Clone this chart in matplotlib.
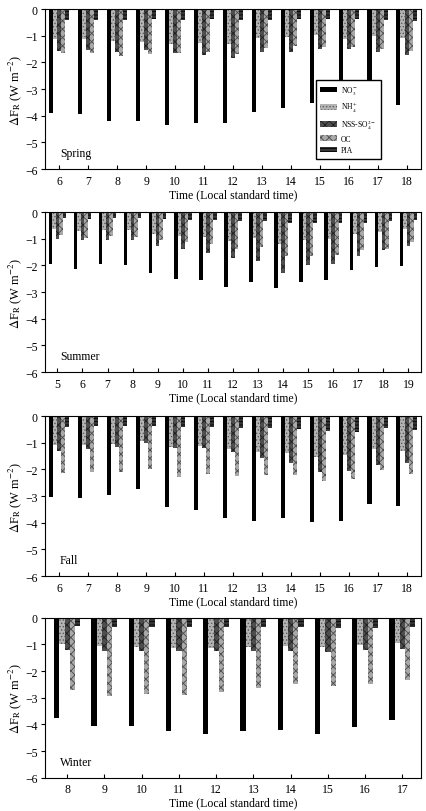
import numpy as np
import matplotlib; matplotlib.use('Agg')
import matplotlib.pyplot as plt

plt.rcParams['font.family'] = ['Liberation Serif', 'DejaVu Serif']
plt.rcParams['mathtext.fontset'] = 'stix'
plt.rcParams['hatch.linewidth'] = 0.6

# ---- data (W m-2) ----
species = ['NO$_3^-$', 'NH$_4^+$', 'NSS-SO$_4^{2-}$', 'OC', 'PIA']

spring_hours = list(range(6, 19))
spring_no3 = [-3.89, -3.93, -4.18, -4.18, -4.36, -4.29, -4.29, -3.85, -3.70, -3.54, -3.35, -3.43, -3.61]
spring_nh4 = [-1.11, -1.14, -1.20, -1.24, -1.30, -1.26, -1.30, -1.10, -1.04, -0.98, -1.11, -1.01, -1.08]
spring_so4 = [-1.58, -1.55, -1.61, -1.55, -1.64, -1.72, -1.82, -1.60, -1.61, -1.49, -1.51, -1.60, -1.74]
spring_oc  = [-1.66, -1.66, -1.76, -1.68, -1.66, -1.61, -1.70, -1.45, -1.39, -1.43, -1.43, -1.51, -1.59]
spring_pia = [-0.41, -0.41, -0.41, -0.39, -0.41, -0.39, -0.41, -0.41, -0.36, -0.36, -0.36, -0.41, -0.46]

summer_hours = list(range(5, 20))
summer_no3 = [-1.95, -2.13, -1.95, -2.00, -2.29, -2.50, -2.55, -2.81, -2.63, -2.84, -2.63, -2.54, -2.16, -2.06, -2.03]
summer_nh4 = [-0.65, -0.70, -0.69, -0.69, -0.83, -0.88, -0.94, -1.09, -0.98, -1.21, -1.03, -1.00, -0.81, -0.73, -0.65]
summer_so4 = [-1.00, -1.06, -1.03, -1.06, -1.29, -1.40, -1.54, -1.71, -1.84, -2.30, -1.98, -1.96, -1.65, -1.44, -1.28]
summer_oc  = [-0.85, -0.96, -0.90, -0.94, -1.03, -1.13, -1.18, -1.38, -1.31, -1.66, -1.65, -1.60, -1.44, -1.40, -1.13]
summer_pia = [-0.21, -0.25, -0.21, -0.23, -0.25, -0.29, -0.28, -0.35, -0.33, -0.40, -0.40, -0.40, -0.40, -0.35, -0.31]

fall_hours = list(range(6, 19))
fall_no3 = [-3.04, -3.07, -2.96, -2.75, -3.42, -3.54, -3.83, -3.95, -3.83, -3.99, -3.93, -3.30, -3.39]
fall_nh4 = [-1.07, -1.09, -1.06, -0.93, -1.16, -1.13, -1.22, -1.34, -1.40, -1.54, -1.47, -1.22, -1.30]
fall_so4 = [-1.30, -1.25, -1.16, -1.00, -1.18, -1.18, -1.34, -1.57, -1.78, -2.09, -2.05, -1.84, -1.78]
fall_oc  = [-2.12, -2.11, -2.09, -1.99, -2.27, -2.19, -2.24, -2.21, -2.21, -2.42, -2.37, -2.02, -2.17]
fall_pia = [-0.41, -0.39, -0.37, -0.39, -0.41, -0.41, -0.43, -0.43, -0.50, -0.56, -0.60, -0.43, -0.53]

winter_hours = list(range(8, 18))
winter_no3 = [-3.77, -4.05, -4.05, -4.26, -4.36, -4.26, -4.20, -4.36, -4.11, -3.82]
winter_nh4 = [-1.00, -1.06, -1.10, -1.12, -1.12, -1.11, -1.06, -1.08, -1.03, -0.93]
winter_so4 = [-1.22, -1.25, -1.25, -1.25, -1.25, -1.25, -1.25, -1.28, -1.22, -1.18]
winter_oc  = [-2.71, -2.93, -2.86, -2.90, -2.78, -2.62, -2.48, -2.55, -2.47, -2.34]
winter_pia = [-0.31, -0.35, -0.35, -0.35, -0.34, -0.34, -0.34, -0.40, -0.37, -0.34]

panels = [
    ('Spring', spring_hours, [spring_no3, spring_nh4, spring_so4, spring_oc, spring_pia], (5.5, 18.5)),
    ('Summer', summer_hours, [summer_no3, summer_nh4, summer_so4, summer_oc, summer_pia], (4.5, 19.5)),
    ('Fall', fall_hours, [fall_no3, fall_nh4, fall_so4, fall_oc, fall_pia], (5.5, 18.5)),
    ('Winter', winter_hours, [winter_no3, winter_nh4, winter_so4, winter_oc, winter_pia], (7.4, 17.5)),
]

# ---- bar styles: (face, hatch colour, hatch) ----
styles = [('black', 'black', None),
          ('#b4b4b4', '#5a5a5a', '.....'),
          ('#4e4e4e', '#1e1e1e', 'xxxx'),
          ('#a8a8a8', '#4a4a4a', 'xxxx'),
          ('#363636', '#000000', '-----')]

fig = plt.figure(figsize=(4.27, 8.12), dpi=100)
bottoms = [0.7906, 0.5406, 0.2894, 0.041]
w = 0.14

for (name, hours, series, xl), b in zip(panels, bottoms):
    ax = fig.add_axes([0.105, b, 0.881, 0.197])
    x = np.array(hours, dtype=float)
    for i, (vals, (fc, hc, ht)) in enumerate(zip(series, styles)):
        ax.bar(x + (i - 2) * w, vals, width=w, color=fc, edgecolor=hc,
               hatch=ht, linewidth=0, label=species[i])
    ax.set_xlim(*xl)
    ax.set_ylim(-6, 0)
    ax.set_xticks(hours)
    ax.set_yticks(range(-6, 1))
    ax.tick_params(axis='x', direction='in', labelsize=8.5, length=3, pad=4)
    ax.tick_params(axis='y', direction='out', labelsize=8.5, length=3, pad=2)
    for s in ax.spines.values():
        s.set_linewidth(0.8)
    ax.set_xlabel('Time (Local standard time)', fontsize=8.5, labelpad=1)
    ax.set_ylabel(r'$\Delta$F$_\mathrm{R}$ (W m$^{-2}$)', fontsize=9, labelpad=1)
    ax.text(0.04, 0.1, name, transform=ax.transAxes, fontsize=8.5, va='center')
    if name == 'Spring':
        ax.legend(loc='lower left', bbox_to_anchor=(0.71, 0.04), fontsize=5.5,
                  frameon=True, fancybox=False, edgecolor='black', framealpha=1,
                  handlelength=2.2, handleheight=0.8, labelspacing=0.45,
                  borderpad=0.6, handletextpad=0.5)

plt.savefig('out.png', dpi=100)
plt.close()
